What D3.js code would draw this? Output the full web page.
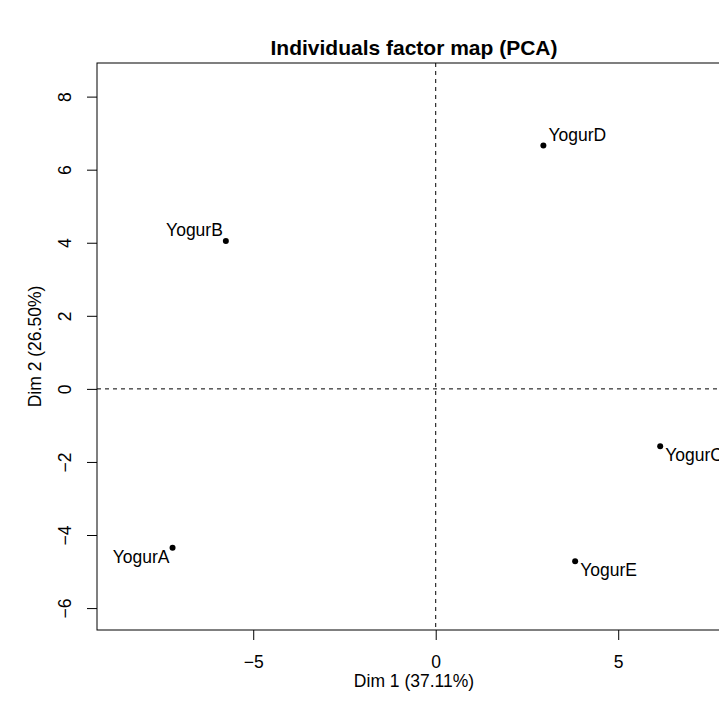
<!DOCTYPE html>
<html><head><meta charset="utf-8">
<script src="https://cdn.jsdelivr.net/npm/d3@7"></script>
<style>html,body{margin:0;padding:0;background:#fff;overflow:hidden}svg{display:block;font-family:"Liberation Sans",Arial,sans-serif}</style>
</head><body>
<script>
const individuals = ["YogurA","YogurB","YogurC","YogurD","YogurE"];
const dim1 = [-7.21, -5.75, 6.15, 2.95, 3.82];
const dim2 = [-4.35, 4.05, -1.57, 6.66, -4.72];
const labelSide = ["below-left","above-left","below-right","above-right","below-right"];
const xTicks = [-5, 0, 5];
const yTicks = [-6, -4, -2, 0, 2, 4, 6, 8];
const title = "Individuals factor map (PCA)";
const xTitle = "Dim 1 (37.11%)";
const yTitle = "Dim 2 (26.50%)";

const W = 719, H = 719;
const plot = {left: 97, top: 63, right: 731, bottom: 630};
const x = d3.scaleLinear().domain([-9.28, 8.09]).range([plot.left, plot.right]);
const y = d3.scaleLinear().domain([-6.60, 8.92]).range([plot.bottom, plot.top]);

const svg = d3.select("body").append("svg").attr("width", W).attr("height", H);
const fmt = d => d < 0 ? "\u2212" + Math.abs(d) : String(d);
const FS = 17.5;

// box
svg.append("rect").attr("x", plot.left).attr("y", plot.top)
  .attr("width", plot.right - plot.left).attr("height", plot.bottom - plot.top)
  .attr("fill", "none").attr("stroke", "#000").attr("stroke-width", 1);

// axes
const xAxis = d3.axisBottom(x).tickValues(xTicks).tickFormat(fmt).tickSize(10).tickPadding(16);
const gx = svg.append("g").attr("transform", `translate(0,${plot.bottom})`).call(xAxis);
gx.select(".domain").remove();
gx.selectAll("text").attr("font-size", FS).attr("font-family", "Liberation Sans, Arial, sans-serif").attr("fill", "#000");

const yAxis = d3.axisLeft(y).tickValues(yTicks).tickFormat(fmt).tickSize(10).tickPadding(0);
const gy = svg.append("g").attr("transform", `translate(${plot.left},0)`).call(yAxis);
gy.select(".domain").remove();
gy.selectAll("text")
  .attr("font-size", FS).attr("font-family", "Liberation Sans, Arial, sans-serif").attr("fill", "#000")
  .attr("x", null).attr("dy", null)
  .attr("text-anchor", "middle")
  .attr("transform", d => `translate(${-26},0) rotate(-90)`);

// dashed zero lines
svg.append("line").attr("x1", x(0)).attr("x2", x(0)).attr("y1", plot.top).attr("y2", plot.bottom)
  .attr("stroke", "#000").attr("stroke-dasharray", "4,4");
svg.append("line").attr("x1", plot.left).attr("x2", plot.right).attr("y1", y(0)).attr("y2", y(0))
  .attr("stroke", "#000").attr("stroke-dasharray", "4,4");

// points
const data = individuals.map((n, i) => ({name: n, x: dim1[i], y: dim2[i], side: labelSide[i]}));
svg.append("g").selectAll("circle").data(data).join("circle")
  .attr("cx", d => x(d.x)).attr("cy", d => y(d.y)).attr("r", 3).attr("fill", "#000");

svg.append("g").selectAll("text").data(data).join("text")
  .attr("x", d => x(d.x) + (d.side.endsWith("left") ? -3 : 5))
  .attr("y", d => y(d.y) + (d.side.startsWith("below") ? 15 : -5))
  .attr("text-anchor", d => d.side.endsWith("left") ? "end" : "start")
  .attr("font-size", FS).attr("fill", "#000")
  .text(d => d.name);

// titles
const cx = (plot.left + plot.right) / 2;
svg.append("text").attr("x", cx).attr("y", 55).attr("text-anchor", "middle")
  .attr("font-size", 21).attr("font-weight", "bold").text(title);
svg.append("text").attr("x", cx).attr("y", 687).attr("text-anchor", "middle")
  .attr("font-size", FS).text(xTitle);
svg.append("text").attr("transform", `translate(41,${(plot.top + plot.bottom) / 2}) rotate(-90)`)
  .attr("text-anchor", "middle").attr("font-size", FS).text(yTitle);
</script>
</body></html>
